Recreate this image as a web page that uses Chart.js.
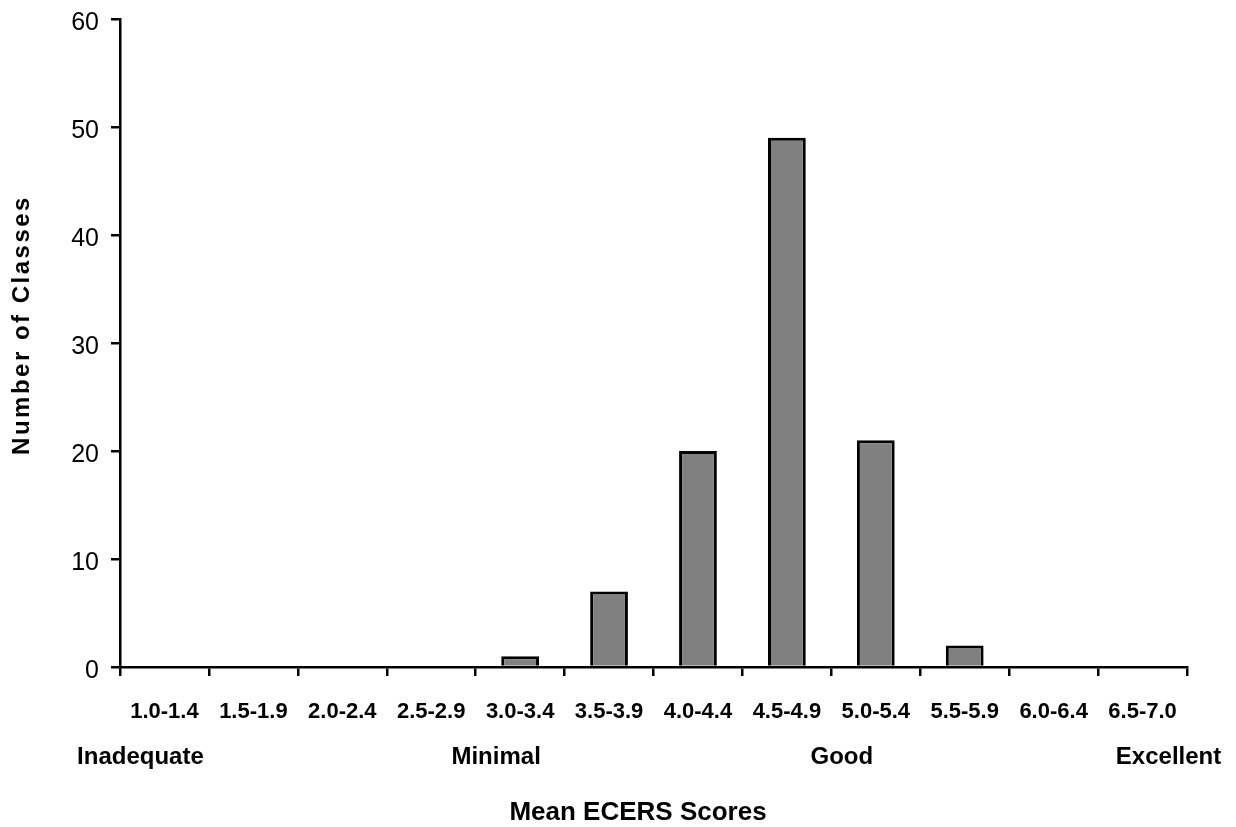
<!DOCTYPE html>
<html>
<head>
<meta charset="utf-8">
<script src="https://cdn.jsdelivr.net/npm/chart.js@4"></script>
<style>
  html, body { margin: 0; padding: 0; background: #fff; }
  #wrap { width: 1236px; height: 827px; position: relative; }
</style>
</head>
<body>
<div id="wrap"><canvas id="ecersChart"></canvas></div>
<script>
const scoreRanges = ['1.0-1.4', '1.5-1.9', '2.0-2.4', '2.5-2.9', '3.0-3.4', '3.5-3.9',
                     '4.0-4.4', '4.5-4.9', '5.0-5.4', '5.5-5.9', '6.0-6.4', '6.5-7.0'];
const classCounts = [0, 0, 0, 0, 1, 7, 20, 49, 21, 2, 0, 0];
const ratingNames = ['Inadequate', '', '', '', 'Minimal', '', '', '', 'Good', '', '', 'Excellent'];
const yTicks = [0, 10, 20, 30, 40, 50, 60];

const FONT = "'Liberation Sans', Arial, sans-serif";

// rating words sit under the range labels, nudged a bit like the original
const ratingShift = {0: -24, 4: -24, 8: -34, 11: 26};

const extraText = {
  id: 'extraText',
  afterDraw(chart) {
    const ctx = chart.ctx;
    const x = chart.scales.x;
    ctx.save();
    ctx.fillStyle = '#000';
    ctx.textAlign = 'center';
    ctx.textBaseline = 'middle';
    ctx.font = 'bold 24px ' + FONT;
    ratingNames.forEach((name, i) => {
      if (!name) return;
      ctx.fillText(name, x.getPixelForValue(i) + (ratingShift[i] || 0), 757);
    });
    // x title
    ctx.font = 'bold 26px ' + FONT;
    ctx.fillText('Mean ECERS Scores', 638, 813);
    // y title
    ctx.translate(22, 325);
    ctx.rotate(-Math.PI / 2);
    ctx.font = 'bold 24px ' + FONT;
    ctx.letterSpacing = '2.5px';
    ctx.fillText('Number of Classes', 0, 0);
    ctx.restore();
  }
};

const data = {
  labels: scoreRanges,
  datasets: [{
    data: classCounts,
    backgroundColor: '#808080',
    borderColor: '#000',
    borderWidth: 3,
    borderSkipped: 'start',
    barPercentage: 0.425,
    categoryPercentage: 1
  }]
};

const config = {
  type: 'bar',
  data: data,
  plugins: [extraText],
  options: {
    responsive: true,
    maintainAspectRatio: false,
    animation: false,
    layout: { padding: { left: 0, right: 49, top: 19, bottom: 0 } },
    plugins: {
      legend: { display: false },
      tooltip: { enabled: false }
    },
    scales: {
      x: {
        grid: { offset: true, drawOnChartArea: false, color: '#000', lineWidth: 2.5, tickLength: 9 },
        border: { color: '#000', width: 2.5 },
        ticks: { color: '#000', font: { family: FONT, size: 22, weight: 'bold' }, padding: 23, maxRotation: 0, autoSkip: false },
        afterFit(scale) { scale.height = 160; scale.paddingLeft = 0; scale.paddingRight = 0; }
      },
      y: {
        min: 0,
        max: 60,
        afterBuildTicks(scale) { scale.ticks = yTicks.map(v => ({ value: v })); },
        grid: { drawOnChartArea: false, color: '#000', lineWidth: 2.5, tickLength: 9 },
        border: { color: '#000', width: 2.5 },
        ticks: { color: '#000', font: { family: FONT, size: 25 }, padding: 12, labelOffset: 4 },
        afterFit(scale) { scale.width = 120; scale.paddingTop = 0; scale.paddingBottom = 0; }
      }
    }
  }
};

new Chart(document.getElementById('ecersChart'), config);
</script>
</body>
</html>
